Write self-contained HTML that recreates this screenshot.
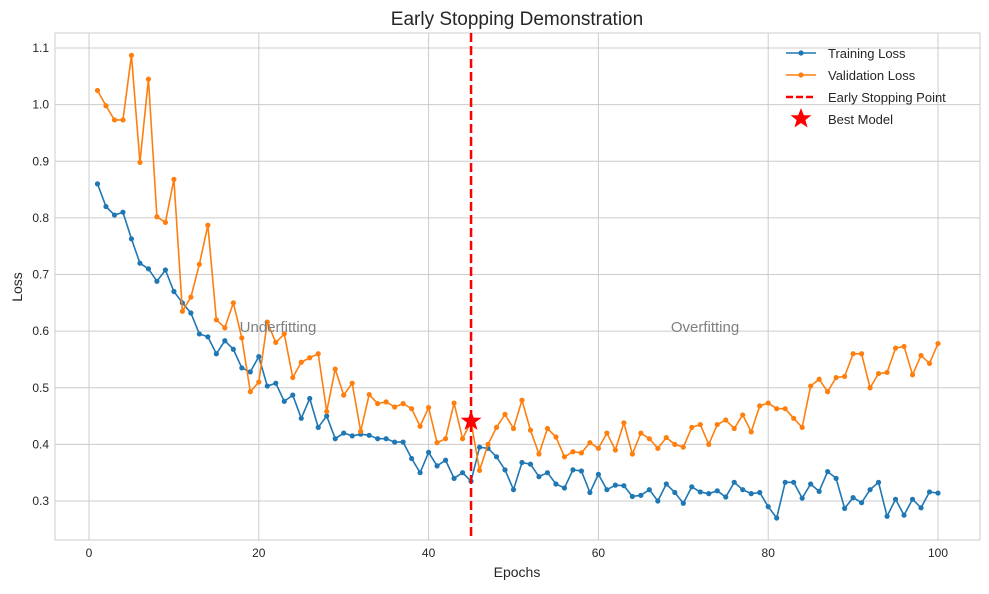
<!DOCTYPE html>
<html><head><meta charset="utf-8"><style>
body{margin:0;background:#fff;font-family:"Liberation Sans",sans-serif}
svg text{font-family:"Liberation Sans",sans-serif}
</style></head><body>
<svg id="c" width="989" height="589" viewBox="0 0 989 589" xmlns="http://www.w3.org/2000/svg"></svg>
<script>
const epochs=[];for(let i=1;i<=100;i++)epochs.push(i);
const trainLoss=[0.86,0.82,0.805,0.81,0.763,0.72,0.71,0.688,0.708,0.67,0.65,0.632,0.595,0.59,0.56,0.583,0.568,0.535,0.528,0.555,0.503,0.508,0.476,0.487,0.446,0.481,0.43,0.45,0.41,0.42,0.415,0.418,0.416,0.41,0.41,0.404,0.404,0.375,0.35,0.386,0.362,0.372,0.34,0.35,0.335,0.395,0.393,0.378,0.355,0.32,0.368,0.365,0.343,0.35,0.33,0.323,0.355,0.353,0.315,0.347,0.32,0.328,0.327,0.308,0.31,0.32,0.3,0.33,0.315,0.296,0.325,0.316,0.313,0.318,0.307,0.333,0.32,0.313,0.315,0.29,0.27,0.333,0.333,0.305,0.33,0.317,0.352,0.34,0.287,0.306,0.297,0.32,0.333,0.273,0.303,0.275,0.303,0.288,0.316,0.314];
const valLoss=[1.025,0.998,0.973,0.973,1.087,0.898,1.045,0.802,0.792,0.868,0.635,0.66,0.718,0.787,0.62,0.606,0.65,0.588,0.493,0.51,0.616,0.58,0.595,0.518,0.545,0.553,0.56,0.458,0.533,0.487,0.508,0.423,0.488,0.472,0.475,0.466,0.472,0.463,0.432,0.465,0.403,0.41,0.473,0.41,0.44,0.354,0.4,0.43,0.453,0.428,0.478,0.425,0.383,0.428,0.413,0.378,0.387,0.385,0.403,0.393,0.42,0.39,0.438,0.383,0.42,0.41,0.393,0.412,0.4,0.395,0.43,0.435,0.4,0.435,0.443,0.428,0.452,0.422,0.468,0.473,0.463,0.463,0.446,0.43,0.503,0.515,0.493,0.518,0.52,0.56,0.56,0.5,0.525,0.527,0.57,0.573,0.523,0.557,0.543,0.578];
const xTicks=[0,20,40,60,80,100];
const yTicks=[0.3,0.4,0.5,0.6,0.7,0.8,0.9,1.0,1.1];
const stopEpoch=45;
const bestLoss=0.441;
const L=55,R=980,T=33,B=540;
const X=v=>89+(v)*(938-89)/100;
const Y=v=>501-(v-0.3)*566.25;
const svg=document.getElementById('c');const NS='http://www.w3.org/2000/svg';
function mk(t,a,p){const e=document.createElementNS(NS,t);for(const k in a)e.setAttribute(k,a[k]);(p||svg).appendChild(e);return e;}
xTicks.forEach(t=>{const x=X(t);
const g=mk('line',{x1:x,x2:x,y1:T,y2:B,stroke:'#cccccc','stroke-width':1});


const tx=mk('text',{x:x,y:B+17,'text-anchor':'middle','font-size':12,fill:'#262626'});tx.textContent=t;

});
yTicks.forEach(t=>{const y=Y(t);
const g=mk('line',{x1:L,x2:R,y1:y,y2:y,stroke:'#cccccc','stroke-width':1});


const tx=mk('text',{x:L-6,y:y+4,'text-anchor':'end','font-size':12,fill:'#262626'});tx.textContent=t.toFixed(1);

});
const fr=mk('rect',{x:L,y:T,width:R-L,height:B-T,fill:'none',stroke:'#cccccc','stroke-width':1});


function series(vals,col,name){
const p=mk('polyline',{points:vals.map((v,i)=>X(epochs[i])+','+Y(v)).join(' '),fill:'none',stroke:col,'stroke-width':1.6});


vals.forEach((v,i)=>{const c=mk('circle',{cx:X(epochs[i]),cy:Y(v),r:2.6,fill:col});

});}
series(trainLoss,'#1f77b4','training-loss');
series(valLoss,'#ff7f0e','validation-loss');
const vl=mk('line',{x1:X(stopEpoch),x2:X(stopEpoch),y1:T,y2:B,stroke:'#ff0000','stroke-width':2.5,'stroke-dasharray':'9,4'});


function star(cx,cy,r){let pts=[];for(let i=0;i<10;i++){const a=-Math.PI/2+i*Math.PI/5;const rr=i%2?r*0.4:r;pts.push((cx+rr*Math.cos(a))+','+(cy+rr*Math.sin(a)));}return pts.join(' ');}
const st=mk('polygon',{points:star(X(stopEpoch),Y(bestLoss),11),fill:'#ff0000'});


const a1=mk('text',{x:278,y:332,'text-anchor':'middle','font-size':15,fill:'#808080'});a1.textContent='Underfitting';


const a2=mk('text',{x:705,y:332,'text-anchor':'middle','font-size':15,fill:'#808080'});a2.textContent='Overfitting';


</script>
<svg style="position:absolute;left:0;top:0" width="989" height="589">
<text x="517" y="25" text-anchor="middle" font-size="19" fill="#262626">Early Stopping Demonstration</text>
<text x="517" y="577" text-anchor="middle" font-size="14" fill="#262626">Epochs</text>
<text x="22" y="287" text-anchor="middle" font-size="14" fill="#262626" transform="rotate(-90 22 287)">Loss</text>
<g font-size="13" fill="#262626">
<g><line x1="786" x2="816" y1="53" y2="53" stroke="#1f77b4" stroke-width="1.6"/><circle cx="801" cy="53" r="2.6" fill="#1f77b4"/><text x="828" y="58">Training Loss</text></g>
<g><line x1="786" x2="816" y1="75" y2="75" stroke="#ff7f0e" stroke-width="1.6"/><circle cx="801" cy="75" r="2.6" fill="#ff7f0e"/><text x="828" y="80">Validation Loss</text></g>
<g><line x1="786" x2="816" y1="97" y2="97" stroke="#ff0000" stroke-width="2.5" stroke-dasharray="7,3"/><text x="828" y="102">Early Stopping Point</text></g>
<g><polygon points="801,108 803.8,115.2 811.5,115.3 805.4,120 807.5,127.5 801,123 794.5,127.5 796.6,120 790.5,115.3 798.2,115.2" fill="#ff0000"/><text x="828" y="124">Best Model</text></g>
</g>
</svg>
</body></html>
